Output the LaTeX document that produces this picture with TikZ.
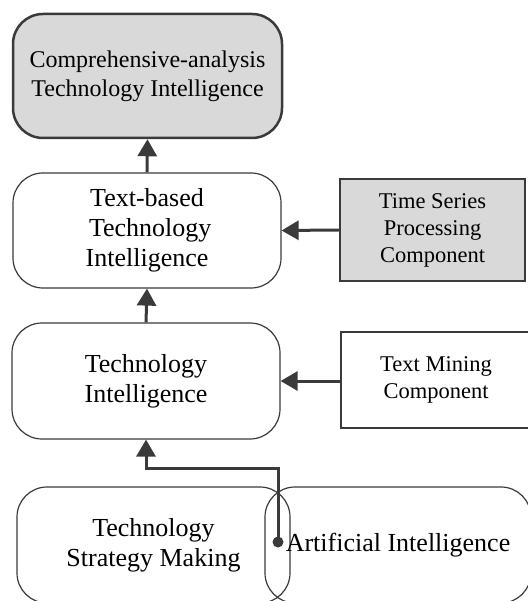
\documentclass[tikz,border=0pt]{standalone}
\usepackage{fontspec}
\setmainfont{Liberation Serif}
\usetikzlibrary{arrows.meta}
\definecolor{edgegray}{HTML}{3A3A3A}
\definecolor{boxgray}{HTML}{D9D9D9}
\begin{document}
\begin{tikzpicture}[x=1pt,y=-1pt,
    tibox/.style={draw=edgegray,line width=1.2pt,rounded corners=30pt,align=center,
        font=\fontsize{26}{30}\selectfont,inner sep=0pt},
    thickbox/.style={line width=2.5pt,fill=boxgray},
    compbox/.style={draw=edgegray,line width=1.2pt,align=center,
        font=\fontsize{22.5}{27}\selectfont,inner sep=0pt},
    flow/.style={draw=edgegray,line width=3pt,-{Triangle[length=17pt,width=19pt]}}]
        \useasboundingbox (0,0) rectangle (527,601);
        %% intelligence levels
        \node[tibox,thickbox,font=\fontsize{24}{29}\selectfont,minimum width=269pt,minimum height=124pt]
            (cati) at (147.5,76) {Comprehensive-analysis\\Technology Intelligence};
        \node[tibox,minimum width=268pt,minimum height=115pt] (tbti) at (147,230.5) {Text-based\\\ Technology\\Intelligence};
        \node[tibox,minimum width=268pt,minimum height=116pt] (ti) at (146,381) {Technology\\Intelligence};
        %% components
        \node[compbox,thickbox,minimum width=185pt,minimum height=102pt] (tsp) at (432.5,230) {Time Series\\Processing\\Component};
        \node[compbox,minimum width=190pt,minimum height=96pt] (tm) at (436,380) {Text Mining\\Component};
        %% bottom
        \node[tibox,minimum width=273pt,minimum height=116pt] (tsm) at (153.5,545) {Technology\\Strategy Making};
        \node[tibox,minimum width=266pt,minimum height=116pt] (ai) at (398,545) {};
        \node[font=\fontsize{26}{30}\selectfont,inner sep=0pt] (ailabel) at (398,545) {Artificial Intelligence};
        %% connectors
        \coordinate (aidot) at (278,542);
        \fill[edgegray] (aidot) circle (5.5pt);
        \draw[flow] (aidot) -- (278,468) -| (ti.south);
        \draw[flow] (ti.north) -- (tbti.south);
        \draw[flow] (tbti.north) -- (cati.south);
        \draw[flow] (tsp.west) -- (tbti.east);
        \draw[flow] (tm.west |- ti.east) -- (ti.east);
    \end{tikzpicture}
\end{document}
